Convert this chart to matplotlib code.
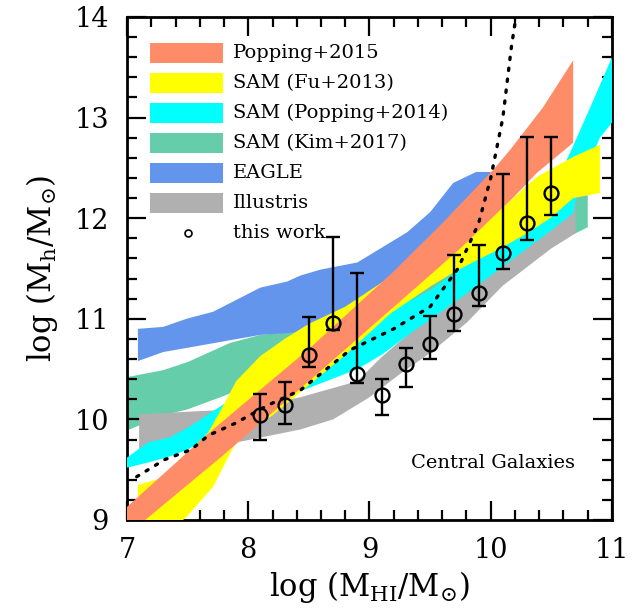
import numpy as np
import matplotlib
matplotlib.use("Agg")
import matplotlib.pyplot as plt
from matplotlib.patches import Rectangle

plt.rcParams['font.family'] = ['DejaVu Serif']
plt.rcParams['mathtext.fontset'] = 'dejavuserif'

# ---- model bands: upper and lower edges (log Mh vs log MHI) ----
# Popping+2015
pop15_xu = [7.0, 7.67, 8.5, 9.19, 9.6, 10.02, 10.16, 10.43, 10.68]
pop15_yu = [9.13, 9.86, 10.70, 11.46, 11.95, 12.48, 12.68, 13.10, 13.57]
pop15_xl = [7.0, 7.77, 8.5, 9.25, 9.75, 10.19, 10.38, 10.68]
pop15_yl = [8.85, 9.62, 10.38, 11.17, 11.70, 12.21, 12.45, 12.75]

# SAM (Fu+2013)
fu13_xu = [7.09, 7.3, 7.67, 7.8, 7.9, 8.1, 8.3, 8.5, 8.8, 9.15, 9.5, 10.0, 10.38, 10.68, 10.9]
fu13_yu = [9.35, 9.42, 9.87, 10.15, 10.38, 10.63, 10.80, 10.95, 11.12, 11.40, 11.65, 12.0, 12.41, 12.61, 12.73]
fu13_xl = [7.09, 7.49, 7.71, 7.88, 8.0, 8.2, 8.43, 8.8, 9.17, 9.5, 9.72, 10.08, 10.3, 10.49, 10.68, 10.9]
fu13_yl = [8.6, 9.03, 9.33, 9.73, 9.88, 10.04, 10.27, 10.64, 11.05, 11.32, 11.48, 11.70, 11.85, 12.0, 12.2, 12.25]

# SAM (Popping+2014)
pop14_xu = [7.0, 7.17, 7.35, 7.52, 7.68, 7.85, 8.5, 9.0, 9.5, 10.0, 10.5, 10.68, 10.82, 11.0]
pop14_yu = [9.62, 9.77, 9.82, 9.93, 10.06, 10.19, 10.62, 10.98, 11.28, 11.72, 12.25, 12.72, 13.1, 13.6]
pop14_xl = [7.0, 7.17, 7.35, 7.5, 7.66, 8.0, 8.43, 8.9, 9.11, 9.33, 9.58, 9.8, 10.1, 10.5, 10.68, 10.72, 10.9, 11.0]
pop14_yl = [9.52, 9.57, 9.63, 9.70, 9.80, 9.98, 10.28, 10.50, 10.65, 10.85, 11.06, 11.25, 11.52, 11.88, 12.05, 12.3, 12.8, 12.95]

# SAM (Kim+2017)
kim17_xu = [7.0, 7.3, 7.5, 7.85, 8.1, 8.35, 9.0, 9.5, 10.0, 10.5, 10.7, 10.8]
kim17_yu = [10.42, 10.49, 10.57, 10.76, 10.84, 10.87, 11.05, 11.35, 11.7, 12.05, 12.25, 12.25]
kim17_xl = [7.0, 7.3, 7.5, 7.77, 8.0, 8.35, 9.0, 9.5, 10.0, 10.5, 10.7, 10.8]
kim17_yl = [9.89, 10.04, 10.10, 10.22, 10.33, 10.45, 10.75, 11.05, 11.45, 11.75, 11.85, 11.91]

# EAGLE
eagle_xu = [7.09, 7.30, 7.49, 7.71, 8.10, 8.32, 8.43, 8.6, 8.90, 9.31, 9.50, 9.69, 9.88, 10.0]
eagle_yu = [10.90, 10.92, 11.0, 11.07, 11.31, 11.37, 11.43, 11.49, 11.56, 11.86, 12.06, 12.35, 12.46, 12.46]
eagle_xl = [7.09, 7.30, 7.49, 7.77, 8.10, 8.35, 8.6, 9.0, 9.5, 10.0]
eagle_yl = [10.58, 10.67, 10.71, 10.77, 10.84, 10.86, 10.9, 11.1, 11.45, 11.9]

# Illustris
ill_xu = [7.1, 7.4, 7.73, 8.0, 8.43, 8.9, 9.1, 9.4, 9.7, 10.05, 10.46, 10.65, 10.7]
ill_yu = [10.05, 10.07, 10.09, 10.12, 10.22, 10.38, 10.62, 10.93, 11.30, 11.60, 11.85, 12.05, 12.18]
ill_xl = [7.1, 7.5, 7.9, 8.43, 8.7, 9.0, 9.25, 9.5, 9.8, 10.1, 10.5, 10.7]
ill_yl = [9.68, 9.73, 9.77, 9.90, 10.0, 10.22, 10.45, 10.66, 10.96, 11.33, 11.70, 11.85]

# dotted relation
dot_x = [7.08, 7.31, 7.53, 7.67, 7.89, 8.16, 8.43, 8.84, 9.2, 9.5, 9.73, 9.9, 10.0, 10.1, 10.17, 10.22]
dot_y = [9.43, 9.60, 9.70, 9.84, 9.96, 10.14, 10.29, 10.69, 10.90, 11.12, 11.50, 11.95, 12.40, 13.0, 13.7, 14.1]

# this work
work_x = [8.1, 8.3, 8.5, 8.7, 8.9, 9.1, 9.3, 9.5, 9.7, 9.9, 10.1, 10.3, 10.5]
work_y = [10.04, 10.14, 10.64, 10.96, 10.45, 10.24, 10.55, 10.75, 11.05, 11.26, 11.65, 11.95, 12.25]
work_hi = [10.25, 10.37, 11.02, 11.81, 11.46, 10.40, 10.71, 11.03, 11.63, 11.73, 12.44, 12.81, 12.81]
work_lo = [9.80, 9.95, 10.52, 10.89, 10.36, 10.04, 10.32, 10.60, 10.88, 11.13, 11.50, 11.78, 12.03]

labels = ['Popping+2015', 'SAM (Fu+2013)', 'SAM (Popping+2014)', 'SAM (Kim+2017)',
          'EAGLE', 'Illustris', 'this work']
colors = ['#FF8C69', '#FFFF00', '#00FFFF', '#66CDAA', '#6495ED', '#B0B0B0']

fig = plt.figure(figsize=(6.37, 6.14), dpi=100)
ax = fig.add_axes([127/637, 94/614, 485/637, 503/614])


def band(xu, yu, xl, yl, color, z):
    px = np.r_[xu, xl[::-1]]
    py = np.r_[yu, yl[::-1]]
    ax.fill(px, py, color=color, lw=0, zorder=z)


band(kim17_xu, kim17_yu, kim17_xl, kim17_yl, colors[3], 1)
band(eagle_xu, eagle_yu, eagle_xl, eagle_yl, colors[4], 2)
band(ill_xu, ill_yu, ill_xl, ill_yl, colors[5], 3)
band(pop14_xu, pop14_yu, pop14_xl, pop14_yl, colors[2], 4)
band(fu13_xu, fu13_yu, fu13_xl, fu13_yl, colors[1], 5)
band(pop15_xu, pop15_yu, pop15_xl, pop15_yl, colors[0], 6)

ax.plot(dot_x, dot_y, color='k', lw=2.4, ls=(0, (0.7, 2.6)),
        dash_capstyle='round', zorder=7)

wy = np.array(work_y)
yerr = [wy - np.array(work_lo), np.array(work_hi) - wy]
ax.errorbar(work_x, work_y, yerr=yerr, fmt='o', ms=10, mfc='none', mec='k',
            mew=1.7, ecolor='k', elinewidth=1.7, capsize=5, capthick=1.7,
            zorder=8)

ax.set_xlim(7, 11)
ax.set_ylim(9, 14)
ax.set_xticks([7, 8, 9, 10, 11])
ax.set_yticks([9, 10, 11, 12, 13, 14])
ax.set_xticks(np.arange(7, 11.01, 0.2), minor=True)
ax.set_yticks(np.arange(9, 14.01, 0.2), minor=True)
ax.tick_params(which='both', direction='in', top=True, right=True, width=1.6)
ax.tick_params(which='major', length=14, labelsize=19.5)
ax.tick_params(which='minor', length=7)
ax.tick_params(axis='y', which='major', pad=13)
ax.tick_params(axis='x', which='major', pad=12)
for s in ax.spines.values():
    s.set_linewidth(2)

ax.set_xlabel(r'log (M$_{\rm HI}$/M$_{\odot}$)', fontsize=22, labelpad=4)
ax.set_ylabel(r'log (M$_{\rm h}$/M$_{\odot}$)', fontsize=22, labelpad=10)

# key
bx0, bw, bh = 23/485, 73/485, 20/503
ty0, dy = (520-53)/503, 30/503
for i, lab in enumerate(labels):
    yc = ty0 - i*dy
    if i < 6:
        ax.add_patch(Rectangle((bx0, yc - bh/2), bw, bh, transform=ax.transAxes,
                               color=colors[i], lw=0, zorder=9))
    else:
        ax.plot([(188-127)/485], [yc], 'o', ms=5, mfc='none', mec='k', mew=1.2,
                transform=ax.transAxes, zorder=9)
    ax.text((233-127)/485, yc, lab, transform=ax.transAxes, fontsize=14,
            va='center', ha='left', zorder=9)

ax.text((575-127)/485, (520-463)/503, 'Central Galaxies', transform=ax.transAxes,
        fontsize=14, ha='right', va='center')

fig.savefig('out.png', dpi=100)
